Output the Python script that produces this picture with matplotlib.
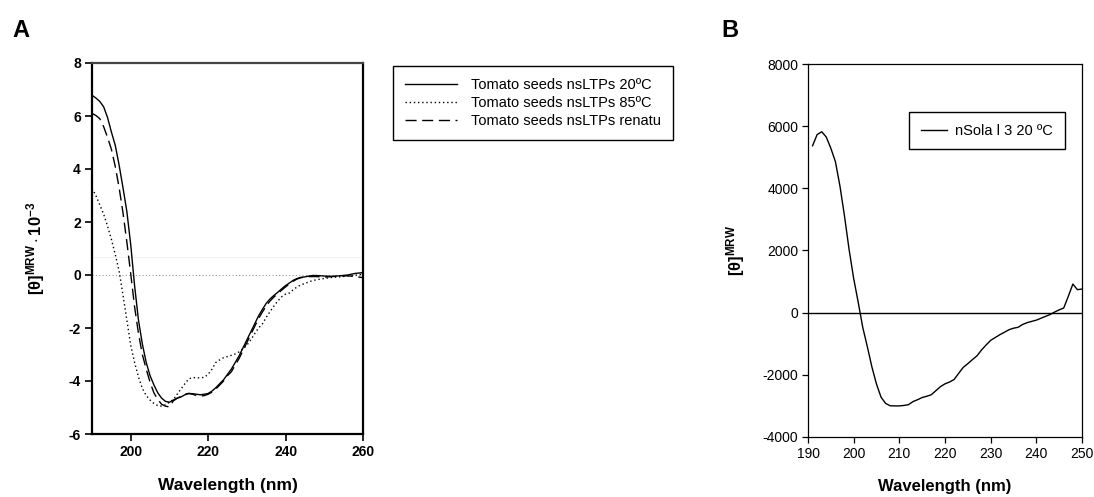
import matplotlib
matplotlib.use("Agg")
import matplotlib.pyplot as plt

plt.rcParams['font.family'] = ['Liberation Sans', 'DejaVu Sans']
plt.rcParams['mathtext.fontset'] = 'custom'
plt.rcParams['mathtext.rm'] = 'Liberation Sans'
plt.rcParams['mathtext.bf'] = 'Liberation Sans:bold'
plt.rcParams['mathtext.it'] = 'Liberation Sans:italic'
plt.rcParams['axes.unicode_minus'] = False

# panel A: tomato seeds nsLTPs (theta * 10^-3)
wl_20 = [190, 191, 192, 193, 194, 195, 196, 197, 198, 199, 200, 201, 202, 203, 204, 205,
         206, 207, 208, 209, 210, 211, 212, 213, 214, 215, 216, 217, 218, 219, 220, 221,
         222, 223, 224, 225, 226, 227, 228, 229, 230, 231, 232, 233, 234, 235, 236, 237,
         238, 239, 240, 241, 242, 243, 244, 245, 246, 247, 248, 250, 252, 254, 256, 258, 260]
cd_20 = [6.78, 6.68, 6.55, 6.35, 5.95, 5.4, 4.9, 4.15, 3.3, 2.4, 1.15, -0.4, -1.7, -2.6, -3.3, -3.8,
         -4.15, -4.45, -4.65, -4.77, -4.8, -4.72, -4.65, -4.6, -4.52, -4.47, -4.48, -4.5, -4.52, -4.5, -4.47, -4.38,
         -4.25, -4.1, -3.95, -3.75, -3.55, -3.3, -3.05, -2.75, -2.45, -2.15, -1.85, -1.55, -1.3, -1.07, -0.9, -0.77,
         -0.65, -0.52, -0.4, -0.3, -0.2, -0.13, -0.09, -0.07, -0.04, -0.02, -0.02, -0.04, -0.05, -0.03, 0.0, 0.06, 0.09]

wl_85 = [190, 191, 192, 193, 194, 195, 196, 197, 198, 199, 200, 201, 202, 203, 204, 205,
         206, 207, 208, 209, 210, 211, 212, 213, 214, 215, 216, 217, 218, 219, 220, 221,
         222, 223, 224, 225, 226, 227, 228, 229, 230, 231, 232, 233, 234, 235, 236, 237,
         238, 239, 240, 241, 242, 243, 244, 245, 246, 247, 248, 250, 252, 254, 256, 258, 260]
cd_85 = [3.27, 3.0, 2.65, 2.3, 1.85, 1.35, 0.78, 0.15, -0.75, -1.7, -2.65, -3.3, -3.85, -4.28, -4.55, -4.72,
         -4.85, -4.93, -4.95, -4.9, -4.8, -4.7, -4.5, -4.3, -4.1, -3.92, -3.87, -3.88, -3.88, -3.86, -3.75, -3.55,
         -3.3, -3.2, -3.12, -3.08, -3.03, -2.98, -2.9, -2.78, -2.65, -2.45, -2.22, -2.0, -1.85, -1.6, -1.38, -1.17,
         -0.98, -0.82, -0.72, -0.68, -0.55, -0.45, -0.37, -0.32, -0.26, -0.21, -0.18, -0.13, -0.09, -0.07, -0.04, -0.01, 0.03]

wl_ren = [190, 191, 192, 193, 194, 195, 196, 197, 198, 199, 200, 201, 202, 203, 204, 205,
          206, 207, 208, 209, 210, 211, 212, 213, 214, 215, 216, 217, 218, 219, 220, 221,
          222, 223, 224, 225, 226, 227, 228, 229, 230, 231, 232, 233, 234, 235, 236, 237,
          238, 239, 240, 241, 242, 243, 244, 245, 246, 248, 250, 252, 254, 256, 258, 260]
cd_ren = [6.1, 6.02, 5.9, 5.6, 5.2, 4.75, 4.1, 3.3, 2.35, 1.25, 0.05, -1.2, -2.2, -3.0, -3.55, -4.05,
          -4.45, -4.7, -4.88, -4.95, -4.98, -4.75, -4.65, -4.58, -4.5, -4.47, -4.5, -4.55, -4.57, -4.55, -4.5, -4.42,
          -4.3, -4.15, -4.0, -3.8, -3.65, -3.4, -3.15, -2.85, -2.55, -2.25, -1.95, -1.65, -1.4, -1.17, -0.98, -0.83,
          -0.7, -0.57, -0.45, -0.33, -0.23, -0.15, -0.1, -0.08, -0.06, -0.06, -0.08, -0.06, -0.04, -0.03, -0.06, -0.1]

labels_a = ['Tomato seeds nsLTPs 20ºC', 'Tomato seeds nsLTPs 85ºC', 'Tomato seeds nsLTPs renatu']

# panel B: nSola l 3 at 20 ºC
wl_b = [191, 192, 193, 194, 195, 196, 197, 198, 199, 200, 201, 202, 203, 204, 205, 206,
        207, 208, 209, 210, 211, 212, 213, 214, 215, 216, 217, 218, 219, 220, 221, 222,
        223, 224, 225, 226, 227, 228, 229, 230, 231, 232, 233, 234, 235, 236, 237, 238,
        239, 240, 241, 242, 243, 244, 245, 246, 247, 248, 249, 250]
cd_b = [5370, 5730, 5820, 5650, 5290, 4860, 4070, 3100, 2030, 1100, 330, -480, -1100, -1750, -2300, -2720,
        -2920, -2995, -3000, -3000, -2985, -2960, -2860, -2800, -2730, -2690, -2640, -2510, -2380, -2290, -2230, -2150,
        -1950, -1760, -1640, -1510, -1390, -1200, -1040, -890, -800, -710, -630, -550, -500, -470, -380, -320,
        -280, -240, -180, -120, -60, 20, 90, 150, 525, 920, 740, 760]
label_b = 'nSola l 3 20 ºC'

W, H = 1094, 497
fig = plt.figure(figsize=(W / 100, H / 100), dpi=100)

# ---- panel A
axA = fig.add_axes([92 / W, 1 - 434 / H, 271 / W, 371 / H])
axA.axhline(0, color='#999999', lw=0.8, ls=(0, (1, 2)))
axA.axhline(0.69, color='#f2f2f2', lw=0.8)
lA1, = axA.plot(wl_20, cd_20, color='black', lw=1.0)
lA2, = axA.plot(wl_85, cd_85, color='black', lw=1.0, ls=(0, (1, 2)))
lA3, = axA.plot(wl_ren, cd_ren, color='black', lw=1.0, ls=(0, (8, 4)))
axA.set_xlim(190, 260)
axA.set_ylim(-6, 8)
axA.set_xticks([200, 220, 240, 260])
axA.set_yticks(range(-6, 9, 2))
for s in axA.spines.values():
    s.set_linewidth(1.6)
axA.spines['top'].set_color('#444444')
axA.tick_params(direction='out', length=5, width=1.2, labelsize=10, pad=3)
for t in axA.get_xticklabels() + axA.get_yticklabels():
    t.set_fontweight('bold')
axA.set_xlabel('Wavelength (nm)', fontsize=12.5, fontweight='bold')
axA.xaxis.set_label_coords(0.5, -0.118)
axA.set_ylabel(r'$\mathbf{[\theta]^{MRW}\cdot 10^{-3}}$', fontsize=12)
axA.yaxis.set_label_coords(-0.166, 0.5)

fig.legend([lA1, lA2, lA3], labels_a, loc='upper left',
           bbox_to_anchor=(393 / W, 1 - 66 / H), bbox_transform=fig.transFigure,
           borderaxespad=0, fontsize=10.5, handlelength=3.6, handletextpad=0.94,
           labelspacing=0.28, borderpad=0.8, frameon=True, fancybox=False,
           edgecolor='black', framealpha=1)

# ---- panel B
axB = fig.add_axes([808 / W, 1 - 437 / H, 274 / W, 373 / H])
axB.axhline(0, color='black', lw=1.0)
lB, = axB.plot(wl_b, cd_b, color='black', lw=1.0)
axB.set_xlim(190, 250)
axB.set_ylim(-4000, 8000)
axB.set_xticks(range(190, 251, 10))
axB.set_yticks(range(-4000, 8001, 2000))
for s in axB.spines.values():
    s.set_linewidth(0.9)
axB.tick_params(direction='out', length=4, width=0.9, labelsize=10, pad=3)
axB.set_xlabel('Wavelength (nm)', fontsize=12, fontweight='bold')
axB.xaxis.set_label_coords(0.5, -0.113)
axB.set_ylabel(r'$\mathbf{[\theta]^{MRW}}$', fontsize=12)
axB.yaxis.set_label_coords(-0.223, 0.5)

fig.legend([lB], [label_b], loc='upper left',
           bbox_to_anchor=(909 / W, 1 - 112 / H), bbox_transform=fig.transFigure,
           borderaxespad=0, fontsize=10.5, handlelength=1.8, handletextpad=0.57,
           borderpad=0.8, frameon=True, fancybox=False,
           edgecolor='black', framealpha=1)

fig.text(12 / W, 1 - 37 / H, 'A', fontsize=17, fontweight='bold', ha='left', va='baseline')
fig.text(721 / W, 1 - 37 / H, 'B', fontsize=17, fontweight='bold', ha='left', va='baseline')

fig.savefig('out.png', dpi=100)
